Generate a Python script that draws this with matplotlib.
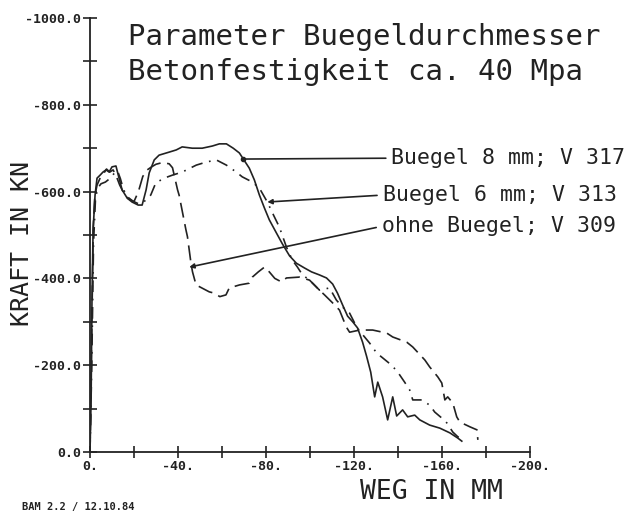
import numpy as np
import matplotlib
matplotlib.use("Agg")
import matplotlib.pyplot as plt
from matplotlib.ticker import MultipleLocator, FuncFormatter

# Weg (mm) und Kraft (kN)
weg_8mm = [0, -0.5, -0.9, -1.4, -2.3, -3.2, -4.6, -5.9, -7.3, -8.7, -10.0, -11.8, -13.2, -14.6,
           -16.9, -19.1, -21.9, -23.7, -25.5, -26.9, -29.2, -31.4, -36.0, -39.2, -41.9, -46.5,
           -51.0, -55.6, -58.8, -62.0, -65.1, -67.9, -69.7, -72.4, -74.7, -77.0, -79.3, -81.5,
           -84.7, -87.5, -90.7, -93.8, -97.5, -100.7, -104.3, -107.5, -110.3, -112.5, -114.8,
           -117.1, -119.4, -121.6, -123.9, -125.7, -127.6, -129.4, -130.8, -133.0, -135.3,
           -137.6, -139.4, -142.1, -144.4, -147.6, -149.9, -154.4, -159.0, -163.6, -167.2, -169.0]
kraft_8mm = [0, -120, -350, -511, -592, -631, -638, -645, -650, -645, -657, -659, -631, -604,
             -585, -576, -569, -569, -604, -643, -673, -684, -691, -696, -703, -700,
             -700, -705, -710, -710, -700, -689, -675, -654, -627, -592, -562, -535,
             -505, -479, -452, -435, -424, -415, -408, -401, -387, -366, -339,
             -313, -300, -286, -253, -221, -184, -127, -161, -127, -74,
             -127, -83, -97, -81, -85, -74, -62, -55, -44, -32, -25]

weg_6mm = [0, -0.8, -1.6, -2.5, -3.5, -5, -7, -9, -11, -12.5, -13.8, -15.2, -17, -19.5, -22,
           -24.5, -26, -27.6, -29.9, -33.7, -37.5, -41.9, -48.3, -52.8, -57.4, -62.0, -66.5,
           -69.2, -73.8, -77.0, -80.6, -83.5, -86.1, -89.3, -92.0, -94.3, -96.6, -99.8, -104.3,
           -108.9, -112.0, -114.8, -118.0, -121.2, -124, -127.1, -130.3, -133.0, -137.1, -139.9,
           -143.0, -145.3, -146.7, -150.8, -154.4, -156.7, -159.5, -162.2, -164.9, -167.2, -170.4]
kraft_6mm = [0, -200, -480, -585, -608, -618, -622, -630, -642, -648, -630, -605, -588, -578, -572,
             -576, -585, -592, -620, -631, -638, -645, -661, -668, -673, -661, -645,
             -634, -622, -608, -576, -545, -518, -472, -442, -426, -408, -396, -373,
             -378, -350, -334, -320, -288, -270, -251, -228, -217, -200, -184,
             -161, -143, -120, -120, -108, -92, -80, -67, -46, -35, -28]

weg_ohne = [0, -0.7, -1.5, -2.2, -3.2, -4.5, -6, -7.5, -9, -10.5, -12, -13.5, -15.5, -17.5, -20,
            -22, -24, -26, -28, -30, -33, -36, -37.5, -39.8, -40.5, -43.6, -44.3, -45.9, -46.6,
            -48.2, -49.7, -54.2, -56.5, -59, -61.8, -63.3, -68, -72.4, -73.8, -76.5, -79.3,
            -81.5, -84, -87.0, -89.3, -95.2, -99.8, -104.3, -106.6, -110, -113.4, -116.5, -118.0,
            -122.6, -128.5, -134.9, -137.6, -144.0, -146.7, -152.2, -154.4, -158.1, -159.9,
            -161.3, -162.6, -164.9, -166.7, -168.1, -172.7, -175.9, -176.3]
kraft_ohne = [0, -250, -520, -590, -615, -630, -640, -652, -645, -650, -635, -615, -595, -583, -577,
              -600, -635, -650, -657, -663, -667, -664, -655, -604, -592, -512, -496, -435, -415,
              -385, -381, -369, -366, -358, -362, -378, -385, -389, -403, -415, -426,
              -415, -400, -392, -401, -403, -396, -373, -362, -345, -327, -288, -276,
              -281, -281, -274, -265, -253, -242, -212, -196, -173, -159,
              -120, -127, -113, -81, -69, -58, -51, -28]

labels = ["Buegel 8 mm; V 317", "Buegel 6 mm; V 313", "ohne Buegel; V 309"]
# Punkt an der Kurve und Textposition (Daten)
pfeil_ziel = [(-69.7, -675), (-80.6, -576), (-45.1, -426)]
text_pos = [(-137.0, -677), (-133.0, -592), (-132.6, -520)]

ink = "#222222"
mono = "DejaVu Sans Mono"

fig = plt.figure(figsize=(6.32, 5.16), dpi=100)
ax = fig.add_axes([90 / 632, 1 - 452 / 516, 440 / 632, 434 / 516])

ax.plot(weg_8mm, kraft_8mm, color=ink, lw=1.2, ls="-")
ax.plot(weg_6mm, kraft_6mm, color=ink, lw=1.2, ls=(0, (7, 4, 1, 4)))
ax.plot(weg_ohne, kraft_ohne, color=ink, lw=1.2, ls=(0, (9, 4)))

ax.set_xlim(0, -200)
ax.set_ylim(0, -1000)

for sp in ["top", "right"]:
    ax.spines[sp].set_visible(False)
for sp in ["left", "bottom"]:
    ax.spines[sp].set_linewidth(1.3)
    ax.spines[sp].set_color(ink)

ax.xaxis.set_major_locator(MultipleLocator(40))
ax.xaxis.set_minor_locator(MultipleLocator(20))
ax.yaxis.set_major_locator(MultipleLocator(200))
ax.yaxis.set_minor_locator(MultipleLocator(100))
ax.xaxis.set_major_formatter(FuncFormatter(lambda v, p: "%d." % round(v)))
ax.yaxis.set_major_formatter(FuncFormatter(lambda v, p: "%.1f" % v))

ax.tick_params(axis="y", which="both", direction="inout", length=10, width=1.2,
               color=ink, pad=1.5)
ax.tick_params(axis="x", which="both", direction="inout", length=9, width=1.2,
               color=ink, pad=1.5)
for lab in ax.get_xticklabels() + ax.get_yticklabels():
    lab.set_family(mono)
    lab.set_weight("bold")
    lab.set_fontsize(9.5)
    lab.set_color(ink)

# Beschriftung der Kurven
for i in range(3):
    ax.annotate(labels[i], xy=pfeil_ziel[i], xytext=text_pos[i], textcoords="data",
                ha="left", va="center", fontsize=15.5, color=ink, family=mono,
                annotation_clip=False,
                arrowprops=dict(arrowstyle="-" if i == 0 else "-|>", color=ink, lw=1.2,
                                shrinkA=2, shrinkB=0, relpos=(0, 0.5), mutation_scale=7))
ax.plot(*pfeil_ziel[0], "o", color=ink, ms=3)

fig.text(128 / 632, 1 - 37 / 516, "Parameter Buegeldurchmesser", fontsize=21,
         ha="left", va="center", color=ink, family=mono)
fig.text(128 / 632, 1 - 72 / 516, "Betonfestigkeit ca. 40 Mpa", fontsize=21,
         ha="left", va="center", color=ink, family=mono)
fig.text(22 / 632, 1 - 243 / 516, "KRAFT IN KN", rotation=90, fontsize=18,
         ha="center", va="center", color=ink, family=mono)
fig.text(431 / 632, 1 - 492 / 516, "WEG IN MM", fontsize=19,
         ha="center", va="center", color=ink, family=mono)
fig.text(22 / 632, 1 - 507 / 516, "BAM 2.2 / 12.10.84", fontsize=7.5, weight="bold",
         ha="left", va="center", color=ink, family=mono)

fig.savefig("out.png", dpi=100)
